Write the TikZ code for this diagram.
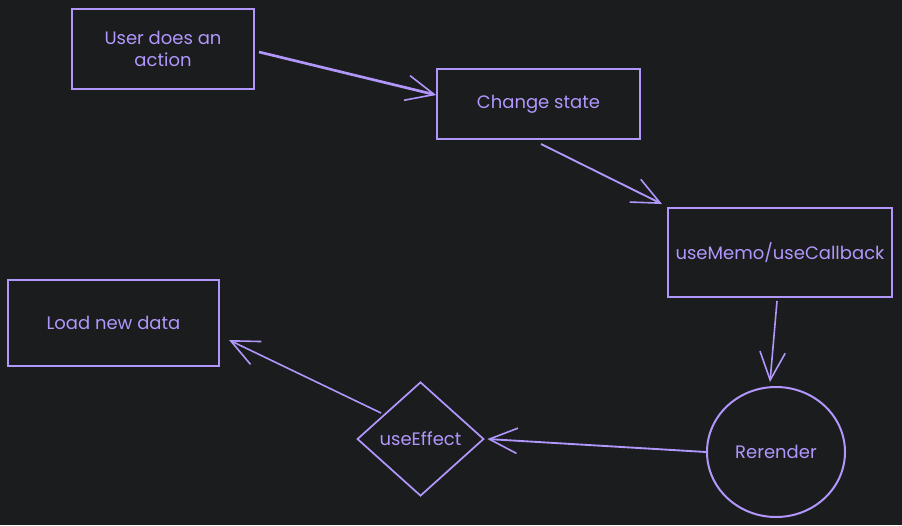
\documentclass[tikz,border=0pt]{standalone}
\usepackage{fontspec}
\setmainfont{Poppins}
\usetikzlibrary{arrows.meta,shapes.geometric}
\definecolor{bg}{HTML}{1B1C1E}
\definecolor{vio}{HTML}{B197FC}
\tikzset{
  px/.style={x=0.75pt,y=-0.75pt},
  lbl/.style={text=vio,font=\fontsize{13.5}{16.5}\selectfont,align=center},
  conn/.style={draw=vio,line width=1.4pt,-{Straight Barb[length=21pt,width=19pt,line width=1.2pt]}},
}
\begin{document}
\begin{tikzpicture}[px]
\fill[bg] (0,0) rectangle (902,525);
\useasboundingbox (0,0) rectangle (902,525);
\node[draw=vio,line width=1.5pt,minimum width=136.5pt,minimum height=60pt,lbl] (act) at (163,49) {User does an\\action};
\node[draw=vio,line width=1.5pt,minimum width=152pt,minimum height=52.5pt,lbl] (chg) at (538.5,104) {Change state};
\node[draw=vio,line width=1.2pt,minimum width=168pt,minimum height=66.75pt,lbl] (memo) at (780,252.5) {useMemo/useCallback};
\node[draw=vio,line width=1.5pt,ellipse,minimum width=103.5pt,minimum height=97.5pt,inner sep=0pt,lbl] (rr) at (776,452) {Rerender};
\node[draw=vio,line width=1.3pt,diamond,minimum width=95pt,minimum height=85.5pt,inner sep=0pt,lbl] (eff) at (420.5,439) {useEffect};
\node[draw=vio,line width=1.5pt,minimum width=158pt,minimum height=64.5pt,lbl] (load) at (113.5,323) {Load new data};
\draw[conn,line width=2pt] ([xshift=3pt]act.east|-0,52) -- (chg.west|-0,95);
\draw[conn] (541,144) -- (662,204);
\draw[conn,line width=1.2pt] (777,301) -- (770,382);
\draw[conn] (rr.west) -- ([xshift=2pt]eff.east);
\draw[conn,line width=1.2pt] (381,413) -- (229,340);
\end{tikzpicture}
\end{document}
